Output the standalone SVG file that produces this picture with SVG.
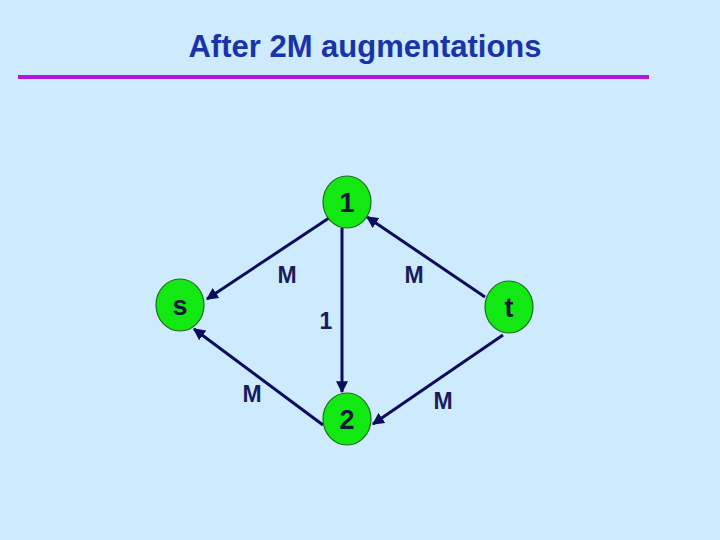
<svg xmlns="http://www.w3.org/2000/svg" width="720" height="540" viewBox="0 0 720 540">
<defs>
<marker id="ah" viewBox="0 0 10 10" refX="9" refY="5" markerWidth="4" markerHeight="4" orient="auto" markerUnits="strokeWidth">
<path d="M0,0 L10,5 L0,10 z" fill="#0c0c5e"/>
</marker>
<style>
.edge{stroke:#0c0c5e;stroke-width:3;fill:none;marker-end:url(#ah)}
.node{fill:#12e812;stroke:#1f6a1f;stroke-width:1.2}
.nl{font-family:"Liberation Sans",Arial,sans-serif;font-weight:bold;font-size:27px;fill:#111838;text-anchor:middle}
.el{font-family:"Liberation Sans",Arial,sans-serif;font-weight:bold;font-size:23px;fill:#1a1a5c;text-anchor:middle}
</style>
</defs>
<rect width="720" height="540" fill="#cdebfd"/>
<text x="365" y="57" font-family="Liberation Sans,Arial,sans-serif" font-weight="bold" font-size="31" fill="#1a33a8" text-anchor="middle">After 2M augmentations</text>
<rect x="18" y="75" width="631" height="4" fill="#b416de"/>
<g id="connectors">
<line class="edge" x1="329" y1="218" x2="207" y2="299"/>
<line class="edge" x1="485" y1="297" x2="367" y2="217"/>
<line class="edge" x1="342" y1="228" x2="342" y2="392"/>
<line class="edge" x1="323" y1="425" x2="194" y2="329"/>
<line class="edge" x1="503" y1="335" x2="373" y2="424"/>
</g>
<g id="edge-labels">
<text class="el" x="287" y="283">M</text>
<text class="el" x="414" y="283">M</text>
<text class="el" x="326" y="329">1</text>
<text class="el" x="252" y="402">M</text>
<text class="el" x="443" y="409">M</text>
</g>
<g id="node-1"><ellipse class="node" cx="347" cy="202" rx="24" ry="26"/><text class="nl" x="347" y="212">1</text></g>
<g id="node-s"><ellipse class="node" cx="180" cy="305" rx="24" ry="26"/><text class="nl" x="180" y="315">s</text></g>
<g id="node-t"><ellipse class="node" cx="509" cy="307" rx="24" ry="26"/><text class="nl" x="509" y="317">t</text></g>
<g id="node-2"><ellipse class="node" cx="347" cy="419" rx="24" ry="26"/><text class="nl" x="347" y="429">2</text></g>
</svg>
